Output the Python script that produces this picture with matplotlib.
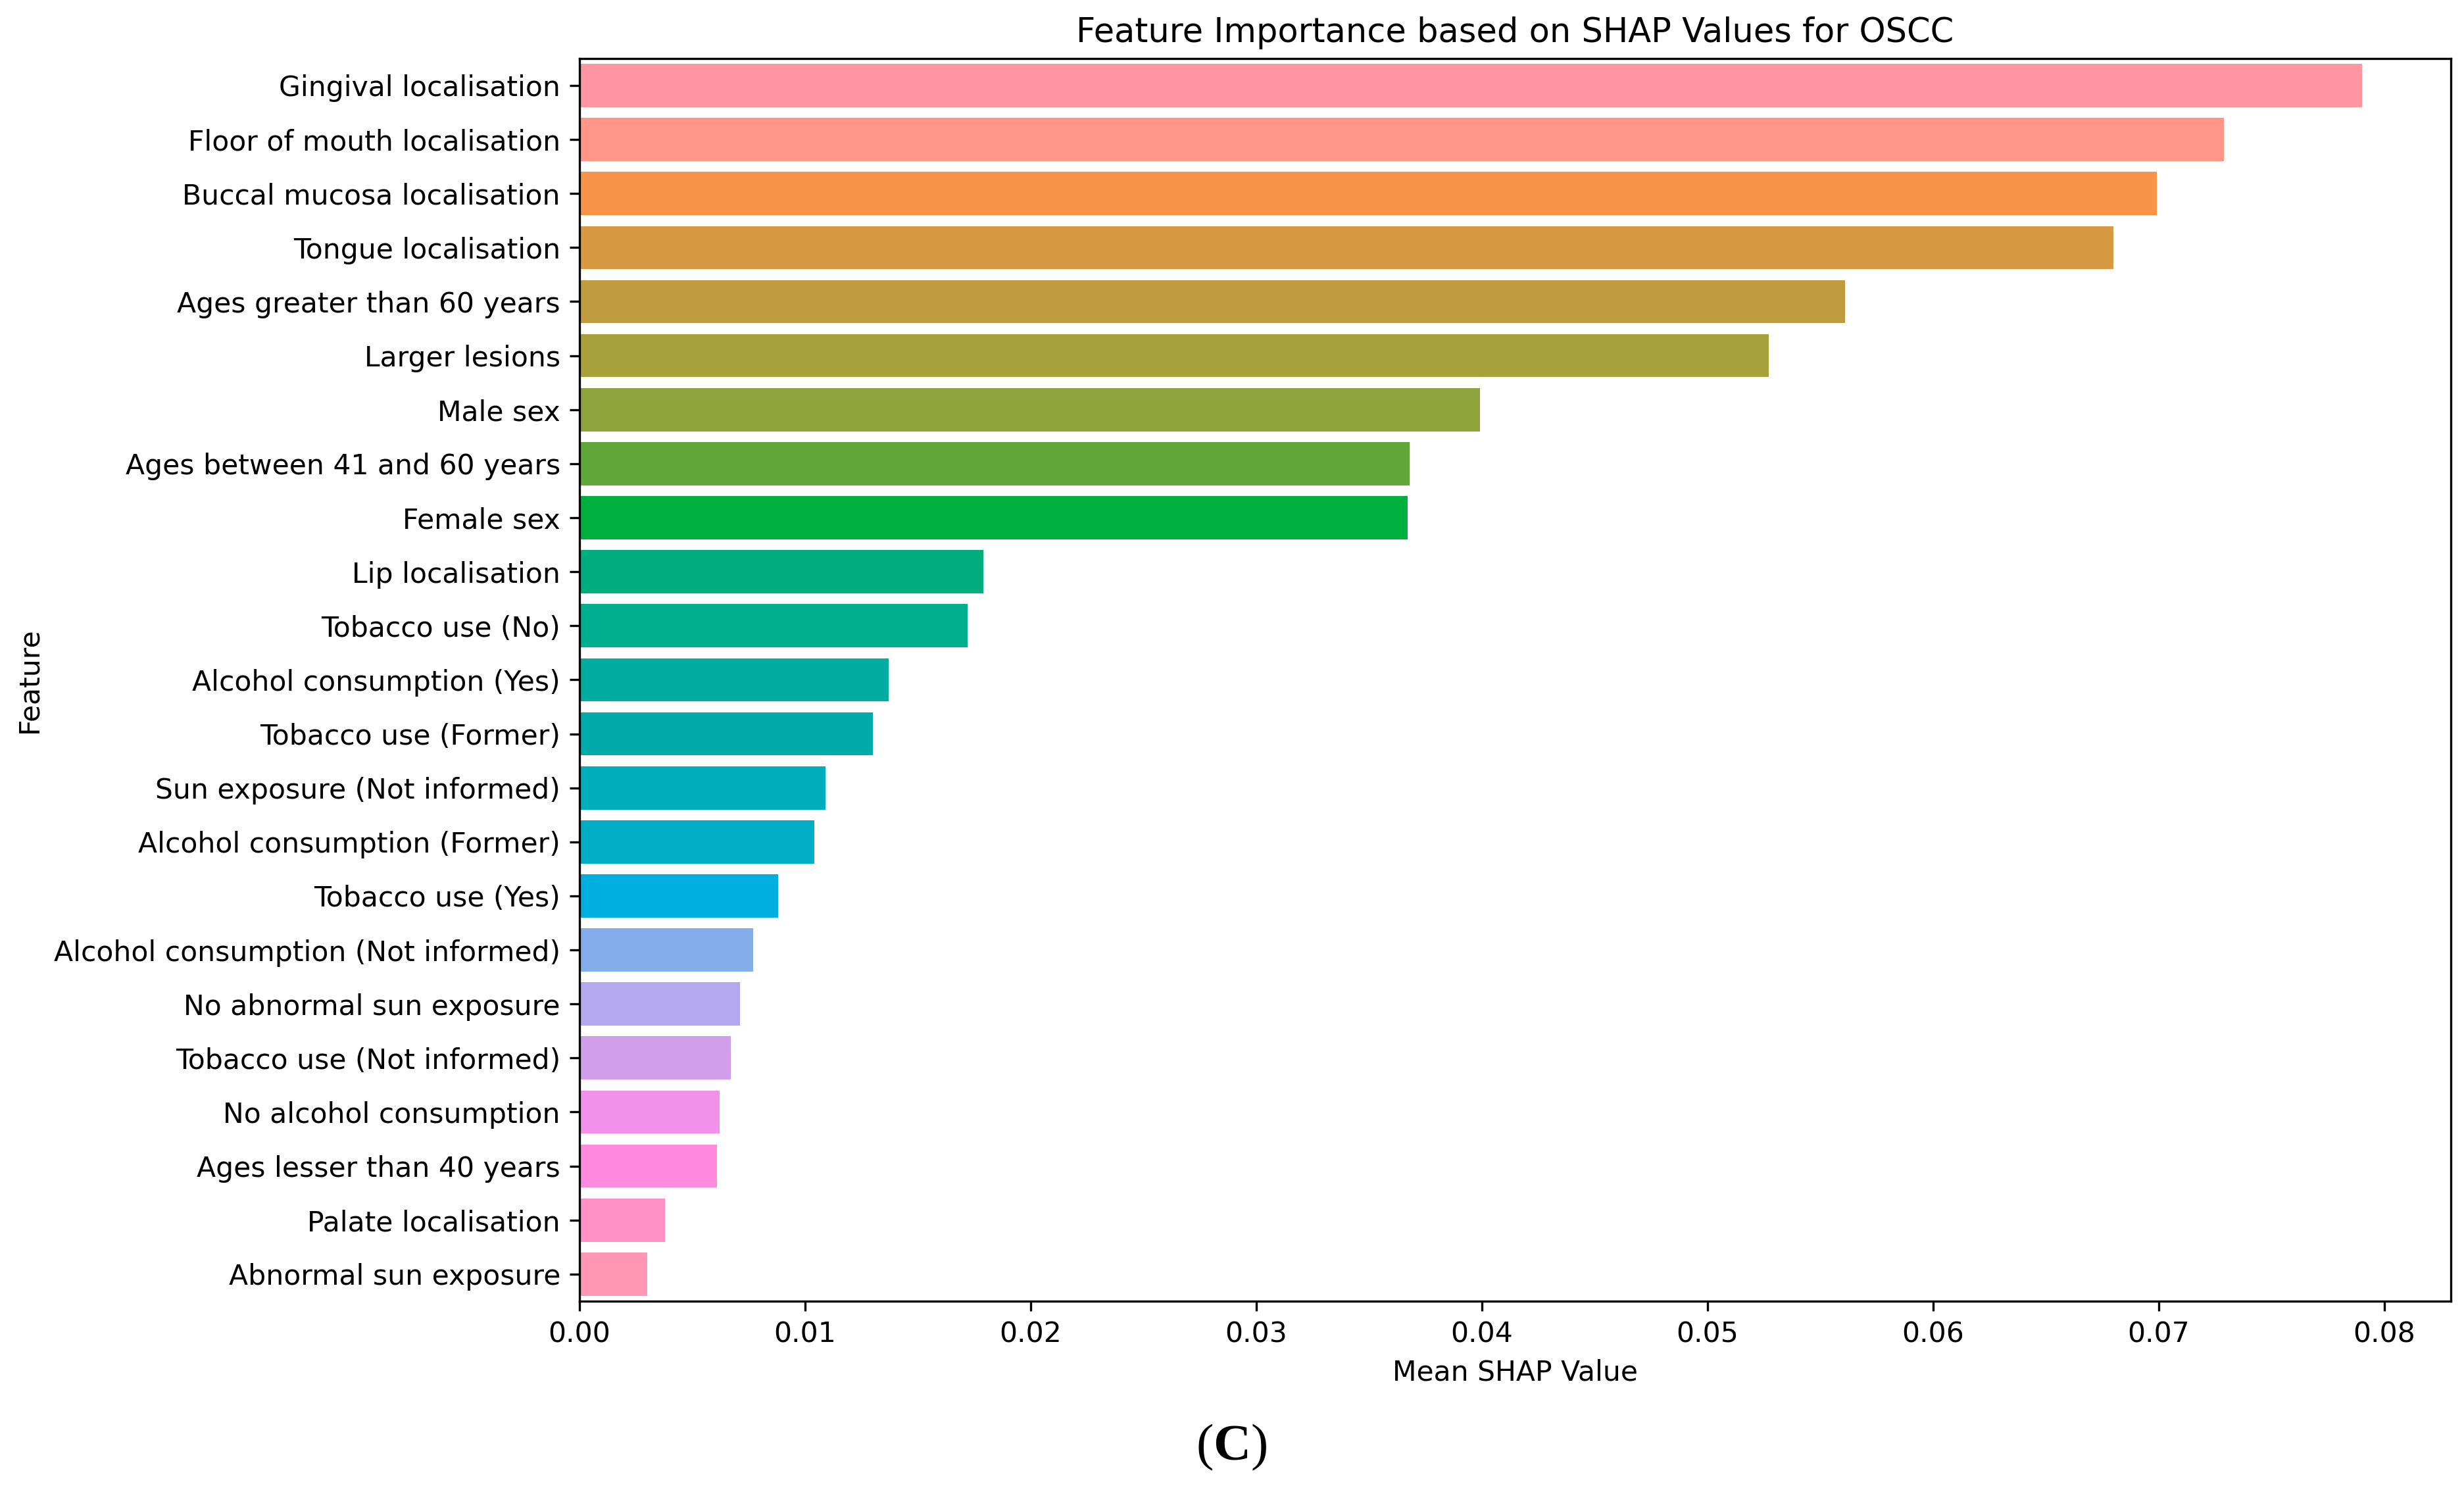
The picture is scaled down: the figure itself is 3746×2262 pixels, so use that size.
import matplotlib
matplotlib.use("Agg")
import numpy as np
from matplotlib import pyplot as plt

# feature names, top to bottom
features = [
    "Gingival localisation",
    "Floor of mouth localisation",
    "Buccal mucosa localisation",
    "Tongue localisation",
    "Ages greater than 60 years",
    "Larger lesions",
    "Male sex",
    "Ages between 41 and 60 years",
    "Female sex",
    "Lip localisation",
    "Tobacco use (No)",
    "Alcohol consumption (Yes)",
    "Tobacco use (Former)",
    "Sun exposure (Not informed)",
    "Alcohol consumption (Former)",
    "Tobacco use (Yes)",
    "Alcohol consumption (Not informed)",
    "No abnormal sun exposure",
    "Tobacco use (Not informed)",
    "No alcohol consumption",
    "Ages lesser than 40 years",
    "Palate localisation",
    "Abnormal sun exposure",
]

# mean |SHAP| per feature
shap_mean = [
    0.0790, 0.0729, 0.0699, 0.0680, 0.0561, 0.0527, 0.0399, 0.0368,
    0.0367, 0.0179, 0.0172, 0.0137, 0.0130, 0.0109, 0.0104, 0.0088,
    0.0077, 0.0071, 0.0067, 0.0062, 0.0061, 0.0038, 0.0030,
]

# bar colours (hue wheel, as in the figure)
bar_colors = [
    "#ff96a2", "#ff9688", "#f7944a", "#d79a42", "#c09c3f", "#a8a03c",
    "#8fa33c", "#61a83a", "#00b03f", "#00ae7c", "#00ae90", "#00aca0",
    "#00abaa", "#00adbb", "#00aec6", "#00aedf", "#83aee9", "#b4a9ee",
    "#d29fec", "#f290ea", "#ff8ade", "#ff91c6", "#ff97b4",
]

plt.rcParams["font.size"] = 10.2
plt.rcParams["mathtext.fontset"] = "custom"
plt.rcParams["mathtext.rm"] = "Liberation Serif"
plt.rcParams["mathtext.bf"] = "Liberation Serif:bold"

fig = plt.figure(figsize=(3746 / 300, 2262 / 300), dpi=300)
ax = fig.add_axes([0.2352, 0.1256, 0.7595, 0.8351])

pos = np.arange(len(features))
ax.barh(pos, shap_mean, height=0.8, color=bar_colors)
ax.set_yticks(pos, features)
ax.set_ylim(len(features) - 0.5, -0.5)

ax.set_title("Feature Importance based on SHAP Values for OSCC")
ax.set_xlabel("Mean SHAP Value")
ax.set_ylabel("Feature")

# panel letter under the plot
fig.text(0.4998, 0.0275, r"($\mathbf{C}$)", ha="center", va="center",
         fontsize=19, family="Liberation Serif")

fig.savefig("out.png", dpi=300)
